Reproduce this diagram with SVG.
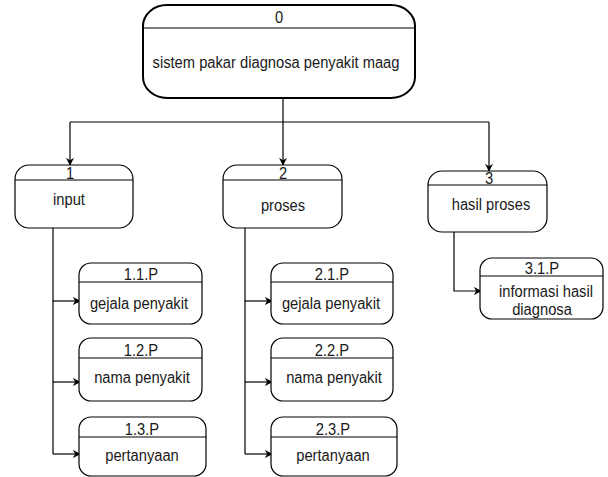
<svg xmlns="http://www.w3.org/2000/svg" width="608" height="477" viewBox="0 0 608 477">
<style>
.box{fill:#fff;stroke:#000;stroke-width:1.2}
.box0{fill:#fff;stroke:#000;stroke-width:2}
.hl{stroke:#000;stroke-width:1.2;fill:none}
.t{font-family:"Liberation Sans",Arial,sans-serif;font-size:16px;fill:#1a1a1a;text-anchor:middle}
.c{stroke:#000;stroke-width:1.2;fill:none}
</style>
<defs>
<marker id="arr" viewBox="0 0 10 10" refX="9" refY="5" markerWidth="8" markerHeight="8" markerUnits="userSpaceOnUse" orient="auto">
<path d="M0,0 L10,5 L0,10 L3,5 Z" fill="#000"/>
</marker>
</defs>
<rect width="608" height="477" fill="#fff"/>
<g id="connectors">
<path class="c" d="M283,98 V122"/>
<path class="c" d="M70,122 H489"/>
<path class="c" d="M70,122 V165" marker-end="url(#arr)"/>
<path class="c" d="M283,122 V165" marker-end="url(#arr)"/>
<path class="c" d="M489,122 V171" marker-end="url(#arr)"/>
<path class="c" d="M53,228 V454"/>
<path class="c" d="M53,301 H80" marker-end="url(#arr)"/>
<path class="c" d="M53,382 H80" marker-end="url(#arr)"/>
<path class="c" d="M53,454 H80" marker-end="url(#arr)"/>
<path class="c" d="M245,228 V454"/>
<path class="c" d="M245,301 H272" marker-end="url(#arr)"/>
<path class="c" d="M245,382 H272" marker-end="url(#arr)"/>
<path class="c" d="M245,454 H272" marker-end="url(#arr)"/>
<path class="c" d="M454,232 V291 H481" marker-end="url(#arr)"/>
</g>
<g id="node0">
<rect class="box0" x="143" y="5" width="272" height="93" rx="24" ry="21"/>
<line class="hl" x1="143" y1="28" x2="415" y2="28" stroke-width="2"/>
<text class="t" transform="translate(279 23) scale(0.92 1)">0</text>
<text class="t" transform="translate(276 68) scale(0.92 1)">sistem pakar diagnosa penyakit maag</text>
</g>
<g id="node1">
<rect class="box" x="15" y="165" width="118" height="63" rx="14" ry="14"/>
<line class="hl" x1="15" y1="180" x2="133" y2="180"/>
<text class="t" transform="translate(70 179) scale(0.92 1)">1</text>
<text class="t" transform="translate(69 205) scale(0.92 1)">input</text>
</g>
<g id="node2">
<rect class="box" x="223" y="165" width="119" height="63" rx="14" ry="14"/>
<line class="hl" x1="223" y1="180" x2="342" y2="180"/>
<text class="t" transform="translate(283 179) scale(0.92 1)">2</text>
<text class="t" transform="translate(283 211) scale(0.92 1)">proses</text>
</g>
<g id="node3">
<rect class="box" x="428" y="171" width="119" height="61" rx="14" ry="14"/>
<line class="hl" x1="428" y1="185" x2="547" y2="185"/>
<text class="t" transform="translate(489 184) scale(0.92 1)">3</text>
<text class="t" transform="translate(491 210) scale(0.92 1)">hasil proses</text>
</g>
<g id="node1_1">
<rect class="box" x="79" y="263" width="123" height="61" rx="12" ry="12"/>
<line class="hl" x1="79" y1="282" x2="202" y2="282"/>
<text class="t" transform="translate(141 280) scale(0.92 1)">1.1.P</text>
<text class="t" transform="translate(139 309) scale(0.92 1)">gejala penyakit</text>
</g>
<g id="node1_2">
<rect class="box" x="79" y="338" width="123" height="63" rx="12" ry="12"/>
<line class="hl" x1="79" y1="358" x2="202" y2="358"/>
<text class="t" transform="translate(141 356) scale(0.92 1)">1.2.P</text>
<text class="t" transform="translate(142 383) scale(0.92 1)">nama penyakit</text>
</g>
<g id="node1_3">
<rect class="box" x="79" y="417" width="127" height="59" rx="12" ry="12"/>
<line class="hl" x1="79" y1="437" x2="206" y2="437"/>
<text class="t" transform="translate(142 435) scale(0.92 1)">1.3.P</text>
<text class="t" transform="translate(142 461) scale(0.92 1)">pertanyaan</text>
</g>
<g id="node2_1">
<rect class="box" x="271" y="263" width="122" height="61" rx="12" ry="12"/>
<line class="hl" x1="271" y1="282" x2="393" y2="282"/>
<text class="t" transform="translate(332 280) scale(0.92 1)">2.1.P</text>
<text class="t" transform="translate(331 309) scale(0.92 1)">gejala penyakit</text>
</g>
<g id="node2_2">
<rect class="box" x="271" y="338" width="122" height="63" rx="12" ry="12"/>
<line class="hl" x1="271" y1="358" x2="393" y2="358"/>
<text class="t" transform="translate(332 356) scale(0.92 1)">2.2.P</text>
<text class="t" transform="translate(334 383) scale(0.92 1)">nama penyakit</text>
</g>
<g id="node2_3">
<rect class="box" x="271" y="417" width="126" height="59" rx="12" ry="12"/>
<line class="hl" x1="271" y1="437" x2="397" y2="437"/>
<text class="t" transform="translate(333 435) scale(0.92 1)">2.3.P</text>
<text class="t" transform="translate(333 461) scale(0.92 1)">pertanyaan</text>
</g>
<g id="node3_1">
<rect class="box" x="480" y="258" width="123" height="61" rx="12" ry="12"/>
<line class="hl" x1="480" y1="276" x2="603" y2="276"/>
<text class="t" transform="translate(542 274) scale(0.92 1)">3.1.P</text>
<text class="t" transform="translate(546 297) scale(0.92 1)">informasi hasil</text>
<text class="t" transform="translate(542 315) scale(0.92 1)">diagnosa</text>
</g>
</svg>
